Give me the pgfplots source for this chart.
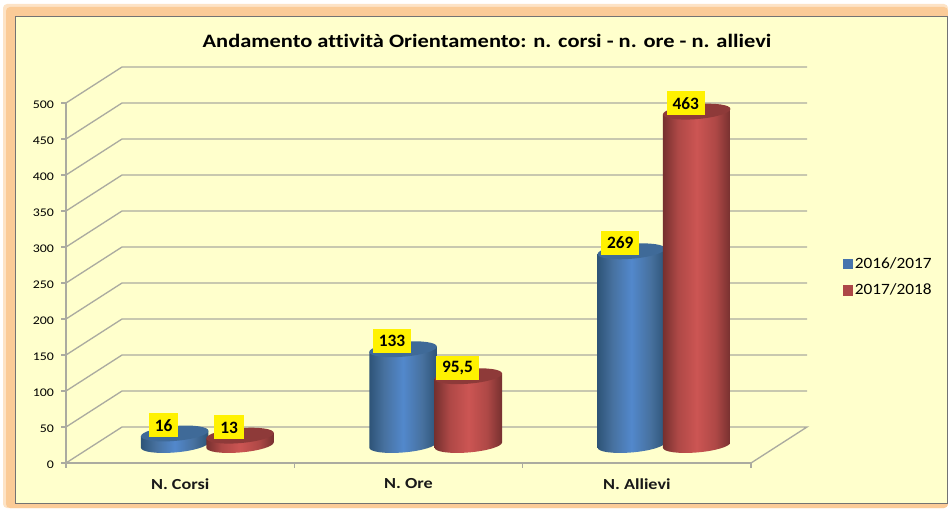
\documentclass[border=0pt]{standalone}
\usepackage{pgfplots}
\pgfplotsset{compat=1.18}
\usepackage{fontspec}
\setmainfont{Carlito}
\newfontfamily\wide{Carlito}[FakeStretch=1.185,Ligatures=NoCommon]
\newfontfamily\semi{Carlito}[FakeStretch=1.1]
\definecolor{frameo}{HTML}{FBCB97}
\definecolor{framel}{HTML}{FDE3C6}
\definecolor{panel}{HTML}{FFFFCC}
\definecolor{gridc}{HTML}{ABABA0}
\definecolor{bd}{HTML}{2E5478}
\definecolor{bm}{HTML}{47719F}
\definecolor{bl}{HTML}{5288CC}
\definecolor{bt}{HTML}{3F6A98}
\definecolor{rd}{HTML}{76302F}
\definecolor{rm}{HTML}{AE4846}
\definecolor{rl}{HTML}{CC5553}
\definecolor{rt}{HTML}{8E3A39}
\pgfdeclarehorizontalshading{cylblue}{100bp}{color(0bp)=(bd); color(25bp)=(bd); color(36bp)=(bm); color(50bp)=(bl); color(64bp)=(bm); color(75bp)=(bd); color(100bp)=(bd)}
\pgfdeclarehorizontalshading{cylred}{100bp}{color(0bp)=(rd); color(25bp)=(rd); color(36bp)=(rm); color(50bp)=(rl); color(64bp)=(rm); color(75bp)=(rd); color(100bp)=(rd)}
% one cylinder: 1px = 0.75pt; the value sets its height (0.72px per unit)
\newcommand\drawcyl[3]{%
  \pgfmathsetmacro\cylh{\cylv*0.54}%
  \pgftransformshift{\pgfpoint{#3}{13.5pt}}%
  \pgftransformcm{1}{0.08}{0}{1}{\pgfpointorigin}%
  \pgfpathmoveto{\pgfpoint{-25.3pt}{-\cylh pt}}%
  \pgfpatharc{180}{360}{25.3pt and 5.6pt}%
  \pgfpathlineto{\pgfpoint{25.3pt}{0pt}}%
  \pgfpathlineto{\pgfpoint{-25.3pt}{0pt}}%
  \pgfpathclose
  \pgfshadepath{#1}{0}%
  \pgfusepath{discard}%
  \pgfpathellipse{\pgfpointorigin}{\pgfpoint{25.3pt}{0pt}}{\pgfpoint{0pt}{5.6pt}}%
  \pgfsetfillcolor{#2}%
  \pgfusepath{fill}%
}
\pgfdeclareplotmark{cylb}{\drawcyl{cylblue}{bt}{-4.1pt}}
\pgfdeclareplotmark{cylr}{\drawcyl{cylred}{rt}{44.9pt}}
\begin{document}
\begin{tikzpicture}
\begin{scope}[x=0.75pt,y=0.75pt]
\path (0,0) rectangle (948,508);
\fill[framel,rounded corners=3pt] (3,0) rectangle (948,504);
\fill[frameo,rounded corners=3pt] (6,0) rectangle (948,501);
\fill[panel,draw=black!55,line width=0.75pt] (15.5,5) rectangle (947.5,491);
\end{scope}
\begin{axis}[
  at={(49.5pt,33.75pt)},anchor=south west,
  scale only axis,width=513.75pt,height=270pt,
  xmin=0,xmax=3,ymin=0,ymax=500,enlargelimits=false,clip=false,
  axis lines=left,axis line style={-,gridc,line width=1pt},
  xtick={0,1,2,3},x tick label as interval,
  xticklabels={N. Corsi,N. Ore,N. Allievi},
  ytick={0,50,...,500},
  tick align=outside,major tick length=3.5pt,
  tick style={gridc,line width=0.8pt},
  /pgf/number format/assume math mode=true,
  xticklabel style={font=\wide\fontsize{11.5}{13}\selectfont\bfseries,yshift=-4.5pt,text=black!90},
  yticklabel style={font=\wide\fontsize{8.8}{10}\selectfont,xshift=-2pt,yshift=-1.5pt,text=black},
  title={Andamento attività Orientamento: n. corsi - n. ore - n. allievi},
  title style={at={(0.6145,1.151)},anchor=center,font=\wide\fontsize{14.2}{16}\selectfont\bfseries},
  legend style={draw=none,fill=none,at={(1.134,0.58)},anchor=north west,
    font=\semi\fontsize{11.8}{14}\selectfont,row sep=6.5pt,inner sep=0pt,
    /tikz/every even column/.append style={column sep=4.5pt}},
  legend cell align=left,
  nodes near coords={\pgfmathprintnumber[fixed,precision=1,use comma]{\pgfplotspointmeta}},
]
% back wall and left wall grid lines, floor
\addplot[forget plot,gridc,line width=1pt,no marks,nodes near coords={}] coordinates {(0,0)(0.2453,50)(3.2453,50)(3,0)};
\addplot[forget plot,gridc,line width=1pt,no marks,nodes near coords={}] coordinates {(0,50)(0.2453,100)(3.2453,100)};
\addplot[forget plot,gridc,line width=1pt,no marks,nodes near coords={}] coordinates {(0,100)(0.2453,150)(3.2453,150)};
\addplot[forget plot,gridc,line width=1pt,no marks,nodes near coords={}] coordinates {(0,150)(0.2453,200)(3.2453,200)};
\addplot[forget plot,gridc,line width=1pt,no marks,nodes near coords={}] coordinates {(0,200)(0.2453,250)(3.2453,250)};
\addplot[forget plot,gridc,line width=1pt,no marks,nodes near coords={}] coordinates {(0,250)(0.2453,300)(3.2453,300)};
\addplot[forget plot,gridc,line width=1pt,no marks,nodes near coords={}] coordinates {(0,300)(0.2453,350)(3.2453,350)};
\addplot[forget plot,gridc,line width=1pt,no marks,nodes near coords={}] coordinates {(0,350)(0.2453,400)(3.2453,400)};
\addplot[forget plot,gridc,line width=1pt,no marks,nodes near coords={}] coordinates {(0,400)(0.2453,450)(3.2453,450)};
\addplot[forget plot,gridc,line width=1pt,no marks,nodes near coords={}] coordinates {(0,450)(0.2453,500)(3.2453,500)};
\addplot[forget plot,gridc,line width=1pt,no marks,nodes near coords={}] coordinates {(0,500)(0.2453,550)(3.2453,550)};
% the two series
\addplot[forget plot,only marks,scatter,mark=cylb,visualization depends on={rawy\as\cylv},
  nodes near coords style={anchor=center,fill=yellow,text=black,inner ysep=0pt,inner xsep=4.4pt,minimum height=18pt,
    font=\fontsize{13}{15}\selectfont\bfseries,xshift=-8.3pt,yshift=6.2pt}]
  coordinates {(0.5,16)(1.5,133)(2.5,269)};
\addplot[forget plot,only marks,scatter,mark=cylr,visualization depends on={rawy\as\cylv},
  nodes near coords style={anchor=center,fill=yellow,text=black,inner ysep=0pt,inner xsep=4.4pt,minimum height=18pt,
    font=\fontsize{13}{15}\selectfont\bfseries,xshift=-8.2pt,yshift=6.2pt}]
  coordinates {(0.5,13)(1.5,95.5)(2.5,463)};
\addlegendimage{only marks,mark=square*,mark size=3.4pt,mark options={fill=bl!85!black,draw=bl!85!black,line width=0pt}}
\addlegendentry{2016/2017}
\addlegendimage{only marks,mark=square*,mark size=3.4pt,mark options={fill=rl!85!black,draw=rl!85!black,line width=0pt}}
\addlegendentry{2017/2018}
\end{axis}
\end{tikzpicture}
\end{document}
